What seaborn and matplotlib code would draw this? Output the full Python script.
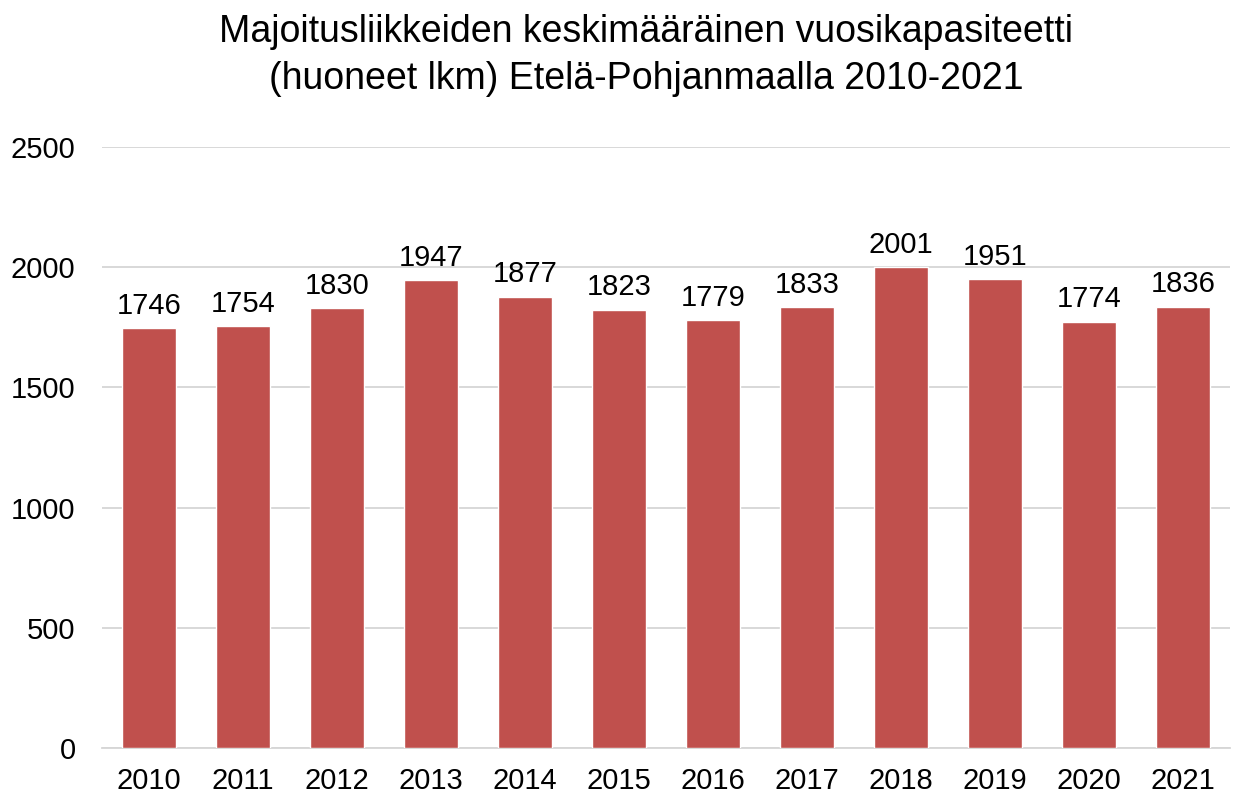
import matplotlib
matplotlib.use("Agg")
import matplotlib.pyplot as plt
import seaborn as sns
import pandas as pd

years = ["2010", "2011", "2012", "2013", "2014", "2015", "2016", "2017", "2018", "2019", "2020", "2021"]
values = [1746, 1754, 1830, 1947, 1877, 1823, 1779, 1833, 2001, 1951, 1774, 1836]
yticks = [0, 500, 1000, 1500, 2000, 2500]
title = "Majoitusliikkeiden keskimääräinen vuosikapasiteetti\n(huoneet lkm) Etelä-Pohjanmaalla 2010-2021"

sns.set_theme(style="white")
plt.rcParams['font.family'] = ['Liberation Sans', 'DejaVu Sans']
plt.rcParams['text.color'] = 'black'

df = pd.DataFrame({"year": years, "value": values})

fig = plt.figure(figsize=(12.38, 7.96), dpi=100)
ax = fig.add_axes([0.0824, 0.0603, 0.911, 0.755])
sns.barplot(data=df, x="year", y="value", color="#C0504D", saturation=1, width=0.58, ax=ax, zorder=3)

ax.set_ylim(0, 2500)
ax.set_yticks(yticks)
ax.set_xlim(-0.5, len(years) - 0.5)
ax.yaxis.grid(True, color="#D6D6D6", linewidth=1.3, zorder=0)
ax.xaxis.grid(False)
for s in ["top", "right", "left"]:
    ax.spines[s].set_visible(False)
ax.spines["bottom"].set_color("#D6D6D6")
ax.spines["bottom"].set_linewidth(1.3)
ax.tick_params(axis="both", labelsize=21, colors="black", length=0)
ax.tick_params(axis="y", pad=19)
ax.tick_params(axis="x", pad=14)
ax.set_xlabel("")
ax.set_ylabel("")

for c in ax.containers:
    ax.bar_label(c, labels=[str(v) for v in values], fontsize=21, padding=6, color="black")

fig.suptitle(title, fontsize=27, x=0.522, y=0.982, va="top", linespacing=1.38, color="black")
fig.savefig("out.png", dpi=100)
